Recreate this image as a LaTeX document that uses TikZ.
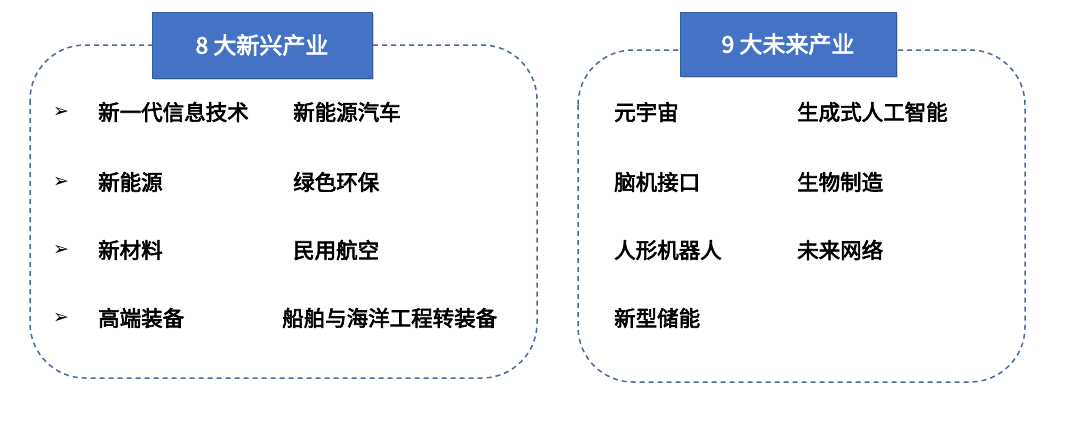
\documentclass[tikz,border=0pt]{standalone}
\usepackage{fontspec}
\newfontfamily\cjk[FakeBold=3]{Noto Sans CJK SC}
\newfontfamily\djvfont{DejaVu Sans}
\usetikzlibrary{shadows}
\definecolor{hb}{HTML}{4472C4}
\definecolor{db}{HTML}{4A6A9E}
\begin{document}
\begin{tikzpicture}[x=1pt,y=-1pt,
 panel/.style={draw=db,line width=1.5pt,rounded corners=55pt,dash pattern=on 5pt off 4pt},
 head/.style={fill=hb,draw=hb!80!black,drop shadow={opacity=0.35,shadow xshift=2pt,shadow yshift=-2pt},text=white,font=\cjk\fontsize{23}{26}\selectfont,inner sep=0pt},
 it/.style={anchor=west,font=\cjk\fontsize{21.5}{24}\selectfont,inner sep=0pt},
 bul/.style={anchor=center,font=\djvfont\fontsize{19}{21}\selectfont,inner sep=0pt}]
\useasboundingbox (0,0) rectangle (1080,426);
\fill[white] (0,0) rectangle (1080,426);
\draw[panel] (30,45) rectangle (537,378);
\draw[panel] (578,50) rectangle (1025,382);
\node[head,minimum width=220pt,minimum height=66pt] (h1) at (262,45) {8 大新兴产业};
\node[head,minimum width=216pt,minimum height=64pt] (h2) at (788,44) {9 大未来产业};
\foreach \y [count=\i] in {112,182,250,318} \node[bul] (b\i) at (61,\y) {➢};
\node[it] (a1) at (98,112) {新一代信息技术};
\node[it] (a2) at (98,182) {新能源};
\node[it] (a3) at (98,250) {新材料};
\node[it] (a4) at (98,318) {高端装备};
\node[it] (c1) at (293,112) {新能源汽车};
\node[it] (c2) at (293,182) {绿色环保};
\node[it] (c3) at (293,250) {民用航空};
\node[it] (c4) at (282,318) {船舶与海洋工程转装备};
\node[it] (r1) at (614,112) {元宇宙};
\node[it] (r2) at (614,182) {脑机接口};
\node[it] (r3) at (614,250) {人形机器人};
\node[it] (r4) at (614,318) {新型储能};
\node[it] (s1) at (797,112) {生成式人工智能};
\node[it] (s2) at (797,182) {生物制造};
\node[it] (s3) at (797,250) {未来网络};
\end{tikzpicture}
\end{document}
